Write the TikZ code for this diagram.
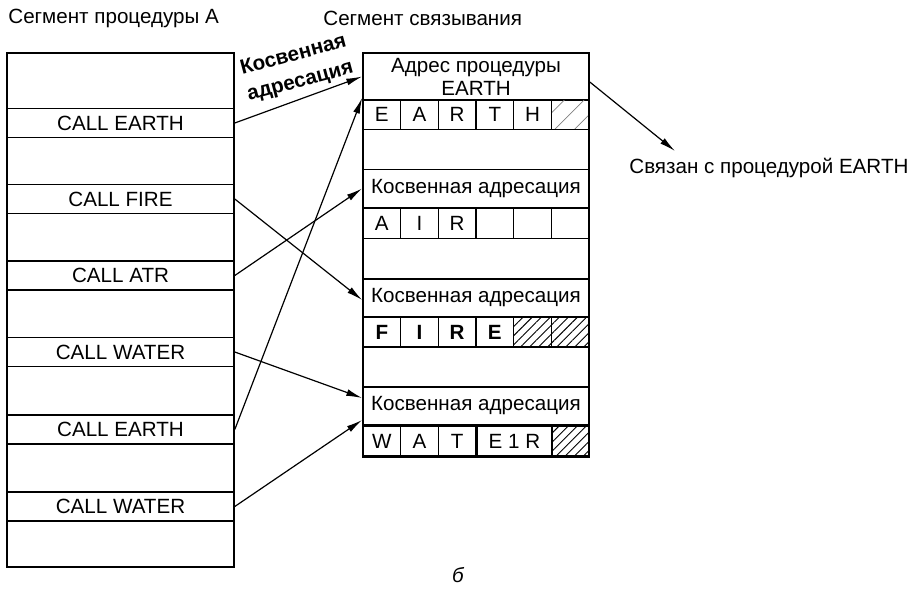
\documentclass[tikz,border=0pt]{standalone}
\usepackage{fontspec}
\setmainfont{Liberation Sans}
\usetikzlibrary{arrows.meta,positioning,patterns.meta}
\newcommand{\segfont}{\fontsize{10.3}{12}\selectfont}
\newcommand{\letters}[3]{%
  \foreach \t/\s [count=\i] in {#3}
    \node[cell,\s] (#1\i) at ({363+(\i-0.5)*226/6},#2) {\t};}
\tikzset{
  frame/.style={line width=0.9pt},
  callbox/.style={draw, line width=0.8pt, minimum width=113.5pt, minimum height=14.5pt,
      inner sep=0pt, font=\segfont},
  indbox/.style={draw, line width=0.8pt, minimum width=113pt, minimum height=19pt,
      inner sep=0pt, font=\segfont},
  cell/.style={draw, line width=0.7pt, minimum width=18.83pt, minimum height=15pt,
      inner sep=0pt, font=\segfont},
  hatch/.style={pattern={Lines[angle=45, distance=3.2pt, line width=0.45pt]}},
  hatchlite/.style={pattern={Lines[angle=45, distance=7pt, line width=0.35pt]},
      pattern color=gray},
  bold/.style={font=\segfont\bfseries},
  ttl/.style={font=\segfont, anchor=west, inner sep=0pt},
  conn/.style={-{Latex[length=2.8mm, width=1.2mm]}, line width=0.6pt},
}
\begin{document}
\begin{tikzpicture}[x=0.5pt, y=-0.5pt]
\useasboundingbox (0,0) rectangle (923,605);
% procedure segment
\node[ttl] (ttlA) at (8,18) {Сегмент процедуры А};
\draw[frame] (7,53) rectangle (234,567);
\node[callbox] (ce1) at (120.5,123)   {CALL EARTH};
\node[callbox] (cf)  at (120.5,199)   {CALL FIRE};
\node[callbox] (ca)  at (120.5,275.5) {CALL ATR};
\node[callbox] (cw1) at (120.5,352)   {CALL WATER};
\node[callbox] (ce2) at (120.5,429.5) {CALL EARTH};
\node[callbox] (cw2) at (120.5,506.5) {CALL WATER};
% linkage segment
\node[ttl] (ttlB) at (323,18) {Сегмент связывания};
\draw[frame] (363,53) rectangle (589,457);
\node[indbox, minimum height=23.5pt, align=center, font=\fontsize{10.3}{11.5}\selectfont]
  (hdr) at (476,76.5) {Адрес процедуры\\EARTH};
\letters{ear}{114.5}{E/,A/,R/,T/,H/,/hatchlite}
\node[indbox] (ind1) at (476,188.5) {Косвенная адресация};
\letters{air}{223.5}{A/,I/,R/,/,/,/}
\node[indbox] (ind2) at (476,298) {Косвенная адресация};
\letters{fir}{332}{F/bold,I/bold,R/bold,E/bold,/hatch,/hatch}
\node[indbox] (ind3) at (476,406) {Косвенная адресация};
\letters{wat}{441}{W/,A/,T/}
\node[cell, minimum width=37.67pt] (wat4) at (514.5,441) {E 1 R};
\node[cell, hatch] (wat5) at (570.2,441) {};
% links
\node[font=\fontsize{10.3}{13.5}\selectfont\bfseries, align=center, rotate=15, inner sep=0pt]
  (kosv) at (297,69) {Косвенная\\адресация};
\draw[conn] (ce1.east) -- (hdr.west);
\draw[conn] (ce2.east) -- ([yshift=1.5pt]hdr.south west);
\draw[conn] (ca.east) -- (ind1.west);
\draw[conn] (cf.east) -- ([yshift=-1pt]ind2.west);
\draw[conn] (cw1.east) -- ([yshift=4pt]ind3.west);
\draw[conn] (cw2.east) -- ([yshift=-7pt]ind3.west);
\node[ttl] (bound) at (629,168) {Связан с процедурой EARTH};
\coordinate (bnd) at (675,151);
\draw[conn] ([yshift=-2.75pt]hdr.east) -- (bnd);
\node[font=\segfont\itshape] (fig) at (458,575) {б};
\end{tikzpicture}
\end{document}
